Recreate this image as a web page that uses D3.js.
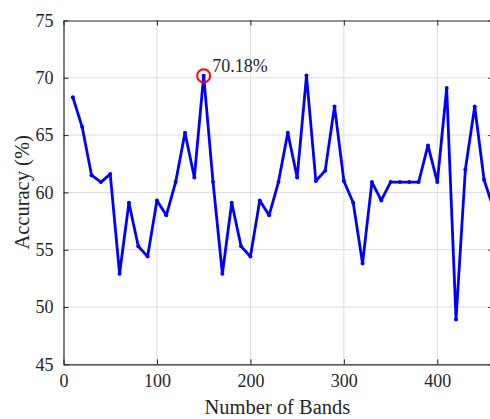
<!DOCTYPE html>
<html><head><meta charset="utf-8">
<script src="https://cdn.jsdelivr.net/npm/d3@7"></script>
<style>body{margin:0;background:#fff;} svg{display:block;}</style>
</head><body>
<script>
const bands = [10,20,30,40,50,60,70,80,90,100,110,120,130,140,150,160,170,180,190,200,210,220,230,240,250,260,270,280,290,300,310,320,330,340,350,360,370,380,390,400,410,420,430,440,450,460];
const accuracy = [68.3,65.7,61.5,60.9,61.6,52.9,59.1,55.3,54.4,59.3,58.0,60.9,65.2,61.3,70.18,60.9,52.9,59.1,55.3,54.4,59.3,58.0,60.9,65.2,61.3,70.2,61.0,61.9,67.5,61.0,59.1,53.8,60.9,59.3,60.9,60.9,60.9,60.9,64.1,60.9,69.1,48.9,62.0,67.5,61.1,58.6];
const xTicks = [0,100,200,300,400];
const yTicks = [45,50,55,60,65,70,75];
const peakLabel = "70.18%";
const peakBand = 150, peakValue = 70.18;

const W = 490, H = 419;
const m = {left:63.5, top:20.5, right:493.4, bottom:364.3};
const svg = d3.select("body").append("svg").attr("width",W).attr("height",H);
const x = d3.scaleLinear().domain([0,460]).range([m.left,m.right]);
const y = d3.scaleLinear().domain([45,75]).range([m.bottom,m.top]);
const font = "'Liberation Serif','Times New Roman',serif";

// grid
svg.append("g").selectAll("line").data(xTicks.filter(d=>d>0)).join("line")
  .attr("x1",d=>x(d)).attr("x2",d=>x(d)).attr("y1",m.top).attr("y2",m.bottom)
  .attr("stroke","#dcdcdc").attr("stroke-width",1);
svg.append("g").selectAll("line").data(yTicks.filter(d=>d>45&&d<75)).join("line")
  .attr("x1",m.left).attr("x2",m.right).attr("y1",d=>y(d)).attr("y2",d=>y(d))
  .attr("stroke","#dcdcdc").attr("stroke-width",1);

// axes
const ax = svg.append("g").attr("transform",`translate(0,${m.bottom})`)
  .call(d3.axisBottom(x).tickValues(xTicks).tickSizeInner(-5).tickSizeOuter(0).tickPadding(10));
const axT = svg.append("g").attr("transform",`translate(0,${m.top})`)
  .call(d3.axisTop(x).tickValues(xTicks).tickSizeInner(-5).tickSizeOuter(0).tickFormat(""));
const ay = svg.append("g").attr("transform",`translate(${m.left},0)`)
  .call(d3.axisLeft(y).tickValues(yTicks).tickSizeInner(-5).tickSizeOuter(0).tickPadding(10));
const ayR = svg.append("g").attr("transform",`translate(${m.right},0)`)
  .call(d3.axisRight(y).tickValues(yTicks).tickSizeInner(-5).tickSizeOuter(0).tickFormat(""));
[ax,axT,ay,ayR].forEach(g=>{
  g.selectAll("path").attr("stroke","#262626").attr("stroke-width",1.2);
  g.selectAll("line").attr("stroke","#262626");
  g.selectAll("text").attr("font-family",font).attr("font-size",18).attr("fill","#262626");
});

// line
svg.append("path").datum(bands.map((b,i)=>[b,accuracy[i]]))
  .attr("fill","none").attr("stroke","#0000ff").attr("stroke-width",2.8)
  .attr("stroke-linejoin","round")
  .attr("d",d3.line().x(d=>x(d[0])).y(d=>y(d[1])));
svg.append("g").selectAll("circle").data(bands.map((b,i)=>[b,accuracy[i]])).join("circle")
  .attr("cx",d=>x(d[0])).attr("cy",d=>y(d[1])).attr("r",2).attr("fill","#0000ff");

// peak marker
svg.append("circle").attr("cx",x(peakBand)).attr("cy",y(peakValue)).attr("r",6.5)
  .attr("fill","none").attr("stroke","#ff0000").attr("stroke-width",2);
svg.append("text").attr("x",x(peakBand)+8.5).attr("y",y(peakValue)-4)
  .attr("font-family",font).attr("font-size",18).attr("fill","#262626").text(peakLabel);

// titles
svg.append("text").attr("x",(m.left+m.right)/2 - 1).attr("y",414)
  .attr("text-anchor","middle").attr("font-family",font).attr("font-size",20.5).attr("fill","#262626")
  .text("Number of Bands");
svg.append("text").attr("transform",`translate(29,${(m.top+m.bottom)/2}) rotate(-90)`)
  .attr("text-anchor","middle").attr("font-family",font).attr("font-size",20.5).attr("fill","#262626")
  .text("Accuracy (%)");
</script>
</body></html>
